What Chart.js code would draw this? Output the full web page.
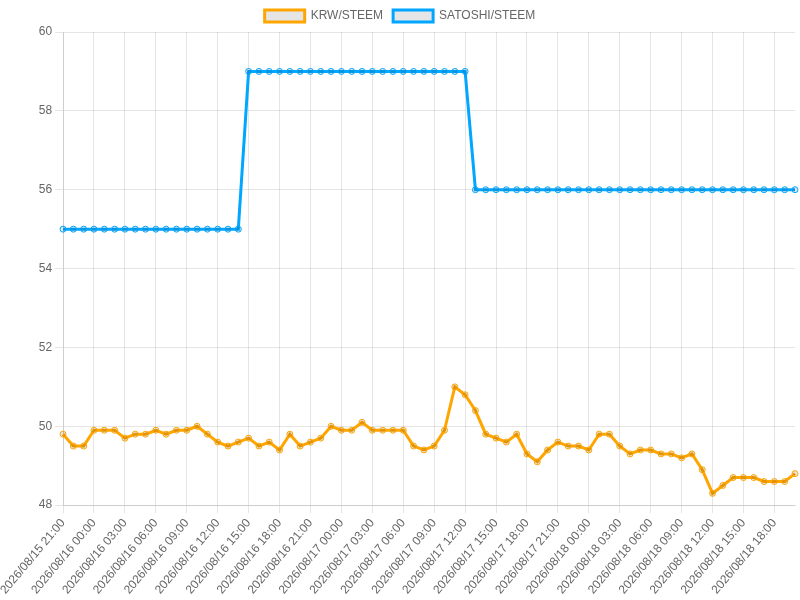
<!DOCTYPE html>
<html>
<head>
    <title>STEEM price</title>
    <script src="https://cdn.jsdelivr.net/npm/chart.js"></script>
    <style>
        body {
            margin: 0;
            padding: 0;
            background-color: #fff;
        }
        .wrap {
            width: 800px;
            height: 600px;
        }
    </style>
</head>
<body>

<div class="wrap">
    <canvas id="steemChart"></canvas>
</div>

<script>
    // hourly labels, 2026/08/15 21:00 ~ 2026/08/18 20:00
    const hours = [
        '2026/08/15 21:00', '2026/08/15 22:00', '2026/08/15 23:00',
        '2026/08/16 00:00', '2026/08/16 01:00', '2026/08/16 02:00', '2026/08/16 03:00', '2026/08/16 04:00', '2026/08/16 05:00',
        '2026/08/16 06:00', '2026/08/16 07:00', '2026/08/16 08:00', '2026/08/16 09:00', '2026/08/16 10:00', '2026/08/16 11:00',
        '2026/08/16 12:00', '2026/08/16 13:00', '2026/08/16 14:00', '2026/08/16 15:00', '2026/08/16 16:00', '2026/08/16 17:00',
        '2026/08/16 18:00', '2026/08/16 19:00', '2026/08/16 20:00', '2026/08/16 21:00', '2026/08/16 22:00', '2026/08/16 23:00',
        '2026/08/17 00:00', '2026/08/17 01:00', '2026/08/17 02:00', '2026/08/17 03:00', '2026/08/17 04:00', '2026/08/17 05:00',
        '2026/08/17 06:00', '2026/08/17 07:00', '2026/08/17 08:00', '2026/08/17 09:00', '2026/08/17 10:00', '2026/08/17 11:00',
        '2026/08/17 12:00', '2026/08/17 13:00', '2026/08/17 14:00', '2026/08/17 15:00', '2026/08/17 16:00', '2026/08/17 17:00',
        '2026/08/17 18:00', '2026/08/17 19:00', '2026/08/17 20:00', '2026/08/17 21:00', '2026/08/17 22:00', '2026/08/17 23:00',
        '2026/08/18 00:00', '2026/08/18 01:00', '2026/08/18 02:00', '2026/08/18 03:00', '2026/08/18 04:00', '2026/08/18 05:00',
        '2026/08/18 06:00', '2026/08/18 07:00', '2026/08/18 08:00', '2026/08/18 09:00', '2026/08/18 10:00', '2026/08/18 11:00',
        '2026/08/18 12:00', '2026/08/18 13:00', '2026/08/18 14:00', '2026/08/18 15:00', '2026/08/18 16:00', '2026/08/18 17:00',
        '2026/08/18 18:00', '2026/08/18 19:00', '2026/08/18 20:00'
    ];

    const krwSteem = [
        49.8, 49.5, 49.5,
        49.9, 49.9, 49.9, 49.7, 49.8, 49.8,
        49.9, 49.8, 49.9, 49.9, 50.0, 49.8,
        49.6, 49.5, 49.6, 49.7, 49.5, 49.6,
        49.4, 49.8, 49.5, 49.6, 49.7, 50.0,
        49.9, 49.9, 50.1, 49.9, 49.9, 49.9,
        49.9, 49.5, 49.4, 49.5, 49.9, 51.0,
        50.8, 50.4, 49.8, 49.7, 49.6, 49.8,
        49.3, 49.1, 49.4, 49.6, 49.5, 49.5,
        49.4, 49.8, 49.8, 49.5, 49.3, 49.4,
        49.4, 49.3, 49.3, 49.2, 49.3, 48.9,
        48.3, 48.5, 48.7, 48.7, 48.7, 48.6,
        48.6, 48.6, 48.8
    ];

    const satoshiSteem = [
        55, 55, 55,
        55, 55, 55, 55, 55, 55,
        55, 55, 55, 55, 55, 55,
        55, 55, 55, 59, 59, 59,
        59, 59, 59, 59, 59, 59,
        59, 59, 59, 59, 59, 59,
        59, 59, 59, 59, 59, 59,
        59, 56, 56, 56, 56, 56,
        56, 56, 56, 56, 56, 56,
        56, 56, 56, 56, 56, 56,
        56, 56, 56, 56, 56, 56,
        56, 56, 56, 56, 56, 56,
        56, 56, 56
    ];

    Chart.defaults.font.family = "'Liberation Sans', Arial, sans-serif";
    Chart.defaults.font.size = 12;
    Chart.defaults.color = '#666';

    const ctx = document.getElementById('steemChart').getContext('2d');
    const steemChart = new Chart(ctx, {
        type: 'line',
        data: {
            labels: hours,
            datasets: [{
                label: 'KRW/STEEM',
                data: krwSteem,
                borderColor: '#ffa500',
                backgroundColor: 'rgba(0, 0, 0, 0.1)',
                borderWidth: 3,
                pointRadius: 3,
                pointBorderWidth: 1,
                tension: 0,
                fill: false
            }, {
                label: 'SATOSHI/STEEM',
                data: satoshiSteem,
                borderColor: '#00a6ff',
                backgroundColor: 'rgba(0, 0, 0, 0.1)',
                borderWidth: 3,
                pointRadius: 3,
                pointBorderWidth: 1,
                tension: 0,
                fill: false
            }]
        },
        options: {
            responsive: true,
            maintainAspectRatio: false,
            animation: false,
            plugins: {
                legend: {
                    labels: { boxWidth: 40 }
                }
            },
            scales: {
                y: {
                    min: 48,
                    max: 60,
                    ticks: { stepSize: 2 }
                }
            }
        }
    });
</script>

</body>
</html>
